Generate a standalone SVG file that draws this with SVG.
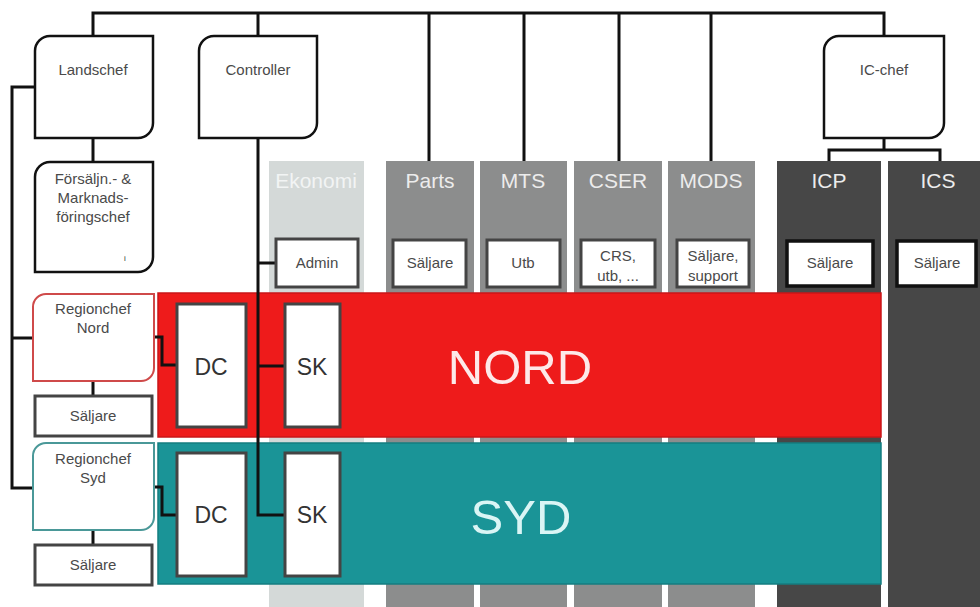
<svg xmlns="http://www.w3.org/2000/svg" width="980" height="607" viewBox="0 0 980 607">
<style>
  .lbl{font-family:"Liberation Sans",Arial,sans-serif;font-size:15px;fill:#4a4a4a;text-anchor:middle}
  .sub{font-family:"Liberation Sans",Arial,sans-serif;font-size:15px;fill:#4a4a4a;text-anchor:middle}
  .hdr{font-family:"Liberation Sans",Arial,sans-serif;font-size:21px;fill:#ececec;text-anchor:middle}
  .big{font-family:"Liberation Sans",Arial,sans-serif;font-size:23px;fill:#333;text-anchor:middle}
  .reg{font-family:"Liberation Sans",Arial,sans-serif;font-size:49px;text-anchor:middle}
  .mgr{fill:#fff;stroke:#111;stroke-width:2.5}
  .box{fill:#fff;stroke:#444;stroke-width:3}
  .dbox{fill:#fff;stroke:#111;stroke-width:3.5}
  .col{fill:#8c8d8d}
  .dcol{fill:#474747}
  .wire{fill:none;stroke:#111;stroke-width:3}
</style>

<!-- columns -->
<g id="col-ekonomi">
  <rect x="269" y="161" width="95" height="446" fill="#d4d9d8"/>
  <text class="hdr" x="316" y="188" style="fill:#f2f4f4">Ekonomi</text>
</g>
<g id="col-parts">
  <rect class="col" x="386" y="161" width="88" height="446"/>
  <text class="hdr" x="430" y="188">Parts</text>
</g>
<g id="col-mts">
  <rect class="col" x="480" y="161" width="87" height="446"/>
  <text class="hdr" x="523" y="188">MTS</text>
</g>
<g id="col-cser">
  <rect class="col" x="574" y="161" width="88" height="446"/>
  <text class="hdr" x="618" y="188">CSER</text>
</g>
<g id="col-mods">
  <rect class="col" x="668" y="161" width="87" height="446"/>
  <text class="hdr" x="711" y="188">MODS</text>
</g>
<g id="col-icp">
  <rect class="dcol" x="777" y="161" width="104" height="446"/>
  <text class="hdr" x="829" y="188">ICP</text>
</g>
<g id="col-ics">
  <rect class="dcol" x="888" y="161" width="92" height="446"/>
  <text class="hdr" x="938" y="188">ICS</text>
</g>

<!-- regional bands -->
<g id="band-nord">
  <rect x="158" y="293" width="723" height="144" fill="#ee1b1b" stroke="#c9171a" stroke-width="1.5"/>
  <text class="reg" x="520" y="384" fill="#fde9e9">NORD</text>
</g>
<g id="band-syd">
  <rect x="158" y="443" width="723" height="141" fill="#1a9497" stroke="#157d80" stroke-width="1.5"/>
  <text class="reg" x="521" y="534" fill="#daf5f5">SYD</text>
</g>

<!-- connectors -->
<g id="connectors">
  <path class="wire" d="M93,36 V13 H884 V36"/>
  <path class="wire" d="M258,13 V36"/>
  <path class="wire" d="M429,13 V161 M524,13 V161 M619,13 V161 M711,13 V161"/>
  <path class="wire" d="M884,138 V150 M829,161 V150 H940 V161"/>
  <path class="wire" d="M93,138 V162"/>
  <path class="wire" d="M35,87 H12 V488 H33 M12,338 H33"/>
  <path class="wire" d="M93,381 V396 M93,530 V545"/>
  <path class="wire" d="M258,138 V515 H285 M258,263 H276 M258,366 H285"/>
  <path class="wire" d="M154,337 H162 V365 H177"/>
  <path class="wire" d="M154,487 H162 V515 H177"/>
</g>

<!-- managers -->
<g id="landschef">
  <path class="mgr" d="M35,51 A15,15 0 0 1 50,36 H153 V123 A15,15 0 0 1 138,138 H35 Z"/>
  <text class="lbl" x="93" y="75">Landschef</text>
</g>
<g id="controller">
  <path class="mgr" d="M199,51 A15,15 0 0 1 214,36 H317 V123 A15,15 0 0 1 302,138 H199 Z"/>
  <text class="lbl" x="258" y="75">Controller</text>
</g>
<g id="ic-chef">
  <path class="mgr" d="M824,51 A15,15 0 0 1 839,36 H944 V123 A15,15 0 0 1 929,138 H824 Z"/>
  <text class="lbl" x="884" y="75">IC-chef</text>
</g>
<g id="forsaljningschef">
  <path class="mgr" d="M35,177 A15,15 0 0 1 50,162 H153 V257 A15,15 0 0 1 138,272 H35 Z"/>
  <text class="lbl" x="93" y="184">Försäljn.- &amp;</text>
  <text class="lbl" x="93" y="203">Marknads-</text>
  <text class="lbl" x="93" y="222">föringschef</text>
  <text class="lbl" x="125" y="261" style="font-size:8px;fill:#333">i</text>
</g>
<g id="regionchef-nord">
  <path d="M33,307 A13,13 0 0 1 46,294 H154 V368 A13,13 0 0 1 141,381 H33 Z" fill="#fff" stroke="#cf4a4a" stroke-width="2"/>
  <text class="lbl" x="93" y="314">Regionchef</text>
  <text class="lbl" x="93" y="333">Nord</text>
</g>
<g id="regionchef-syd">
  <path d="M33,456 A13,13 0 0 1 46,443 H154 V517 A13,13 0 0 1 141,530 H33 Z" fill="#fff" stroke="#4a9898" stroke-width="2"/>
  <text class="lbl" x="93" y="464">Regionchef</text>
  <text class="lbl" x="93" y="483">Syd</text>
</g>
<g id="saljare-nord">
  <rect class="box" x="35" y="396" width="117" height="40"/>
  <text class="lbl" x="93" y="421">Säljare</text>
</g>
<g id="saljare-syd">
  <rect class="box" x="35" y="545" width="117" height="40"/>
  <text class="lbl" x="93" y="570">Säljare</text>
</g>

<!-- sub units -->
<g id="admin">
  <rect class="box" x="276" y="239" width="82" height="48"/>
  <text class="sub" x="317" y="268">Admin</text>
</g>
<g id="parts-saljare">
  <rect class="box" x="393" y="240" width="73" height="47"/>
  <text class="sub" x="430" y="268">Säljare</text>
</g>
<g id="mts-utb">
  <rect class="box" x="487" y="240" width="73" height="47"/>
  <text class="sub" x="523" y="268">Utb</text>
</g>
<g id="cser-crs">
  <rect class="box" x="581" y="240" width="74" height="47"/>
  <text class="sub" x="618" y="261">CRS,</text>
  <text class="sub" x="618" y="281">utb, ...</text>
</g>
<g id="mods-saljare">
  <rect class="box" x="677" y="240" width="72" height="47"/>
  <text class="sub" x="713" y="261">Säljare,</text>
  <text class="sub" x="713" y="281">support</text>
</g>
<g id="icp-saljare">
  <rect class="dbox" x="787" y="241" width="86" height="45"/>
  <text class="sub" x="830" y="268">Säljare</text>
</g>
<g id="ics-saljare">
  <rect class="dbox" x="897" y="241" width="79" height="45"/>
  <text class="sub" x="937" y="268">Säljare</text>
</g>

<!-- regional units -->
<g id="dc-nord">
  <rect class="box" x="177" y="304" width="69" height="123"/>
  <text class="big" x="211" y="375">DC</text>
</g>
<g id="sk-nord">
  <rect class="box" x="285" y="304" width="55" height="123"/>
  <text class="big" x="312" y="375">SK</text>
</g>
<g id="dc-syd">
  <rect class="box" x="177" y="453" width="69" height="123"/>
  <text class="big" x="211" y="523">DC</text>
</g>
<g id="sk-syd">
  <rect class="box" x="285" y="453" width="55" height="123"/>
  <text class="big" x="312" y="523">SK</text>
</g>
</svg>
